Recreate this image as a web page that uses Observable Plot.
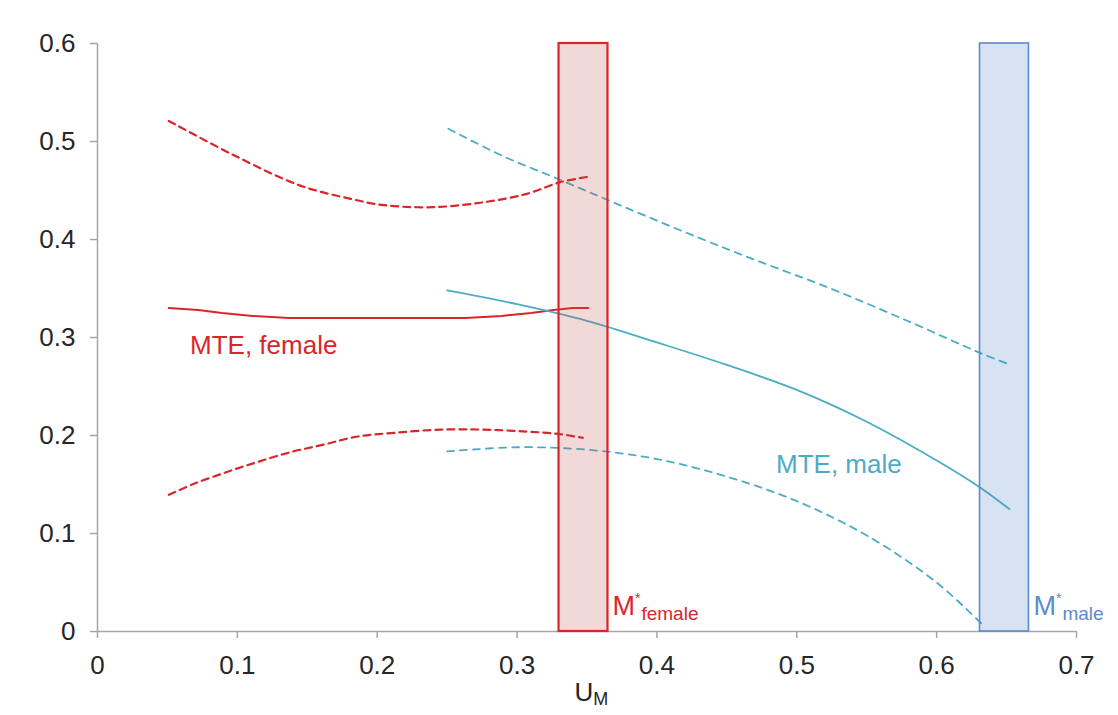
<!DOCTYPE html>
<html>
<head>
<meta charset="utf-8">
<script src="https://cdn.jsdelivr.net/npm/d3@7"></script>
<script src="https://cdn.jsdelivr.net/npm/@observablehq/plot@0.6"></script>
<style>
  html, body { margin: 0; padding: 0; background: #fff; }
  #chart svg { display: block; }
</style>
</head>
<body>
<div id="chart"></div>
<script>
// ---- data ----
const xTicks = [0, 0.1, 0.2, 0.3, 0.4, 0.5, 0.6, 0.7];
const yTicks = [0, 0.1, 0.2, 0.3, 0.4, 0.5, 0.6];

// MTE female (solid) and its confidence bands (dashed)
const femaleMTE = [[0.051,0.330],[0.072,0.328],[0.089,0.325],[0.111,0.322],[0.137,0.320],[0.200,0.320],[0.263,0.320],[0.289,0.322],[0.310,0.325],[0.326,0.328],[0.340,0.330],[0.351,0.330]];
const femaleUpper = [[0.051,0.521],[0.0975,0.486],[0.145,0.455],[0.181,0.4415],[0.205,0.435],[0.240,0.433],[0.276,0.438],[0.307,0.4466],[0.331,0.4585],[0.351,0.464]];
const femaleLower = [[0.051,0.1395],[0.069,0.1507],[0.093,0.163],[0.114,0.1728],[0.138,0.183],[0.162,0.1908],[0.186,0.199],[0.212,0.2027],[0.245,0.206],[0.276,0.206],[0.307,0.204],[0.329,0.2017],[0.347,0.1976]];

// MTE male (solid) and its confidence bands (dashed)
const maleMTE = [[0.250,0.348],[0.300,0.334],[0.350,0.317],[0.400,0.295],[0.450,0.272],[0.500,0.2465],[0.550,0.214],[0.600,0.1745],[0.630,0.148],[0.652,0.125]];
const maleUpper = [[0.2509,0.513],[0.289,0.4857],[0.329,0.462],[0.3686,0.438],[0.414,0.411],[0.465,0.382],[0.5218,0.3513],[0.5786,0.3173],[0.6325,0.2834],[0.651,0.273]];
const maleLower = [[0.250,0.1837],[0.300,0.188],[0.350,0.1855],[0.400,0.176],[0.450,0.158],[0.500,0.133],[0.550,0.098],[0.600,0.050],[0.632,0.008]];

// M* intervals
const mStarGroups = ["female", "male"];
const mStarLow = [0.330, 0.631];
const mStarHigh = [0.365, 0.666];
const mStarTop = [0.6, 0.6];

// label anchors (data units) and texts
const labelTexts = ["MTE, female", "MTE, male"];
const labelX = [0.0665, 0.4855];
const labelY = [0.292, 0.171];

// ---- styles ----
const RED = "#d9262b";
const TEAL = "#4bacc6";
const BLUE = "#5b8bd0";
const AXIS = "#a6a6a6";
const TXT = "#262626";
const FONT = "'Liberation Sans', Arial, sans-serif";

const rects = mStarGroups.map((g, i) => ({g, x1: mStarLow[i], x2: mStarHigh[i], y2: mStarTop[i]}));

const chart = Plot.plot({
  width: 1118,
  height: 715,
  marginLeft: 97,
  marginRight: 42,
  marginTop: 43,
  marginBottom: 84,
  style: {fontFamily: FONT, fontSize: "26px", color: TXT, background: "#fff"},
  x: {domain: [0, 0.7]},
  y: {domain: [0, 0.6]},
  marks: [
    Plot.axisX({ticks: xTicks, tickSize: 7, tickPadding: 17, stroke: AXIS, strokeWidth: 1.5, fill: TXT, fontSize: 26, label: null, tickFormat: d3.format("")}),
    Plot.axisY({ticks: yTicks, tickSize: 7, tickPadding: 15, stroke: AXIS, strokeWidth: 1.5, fill: TXT, fontSize: 26, label: null, tickFormat: d3.format("")}),
    Plot.ruleY([0], {stroke: AXIS, strokeWidth: 1.5}),
    Plot.ruleX([0], {stroke: AXIS, strokeWidth: 1.5}),
    // female
    Plot.line(femaleUpper, {x: d => d[0], y: d => d[1], stroke: RED, strokeWidth: 2.2, strokeDasharray: "7,5", curve: "catmull-rom"}),
    Plot.line(femaleLower, {x: d => d[0], y: d => d[1], stroke: RED, strokeWidth: 2.2, strokeDasharray: "7,5", curve: "catmull-rom"}),
    Plot.line(femaleMTE, {x: d => d[0], y: d => d[1], stroke: RED, strokeWidth: 2}),
    // male
    Plot.line(maleUpper, {x: d => d[0], y: d => d[1], stroke: TEAL, strokeWidth: 1.8, strokeDasharray: "7,6", curve: "catmull-rom"}),
    Plot.line(maleLower, {x: d => d[0], y: d => d[1], stroke: TEAL, strokeWidth: 1.8, strokeDasharray: "7,6", curve: "catmull-rom"}),
    Plot.line(maleMTE, {x: d => d[0], y: d => d[1], stroke: TEAL, strokeWidth: 1.8, curve: "catmull-rom"}),
    // M* bars on top (semi-transparent)
    Plot.rect(rects, {x1: "x1", x2: "x2", y1: 0, y2: "y2",
      fill: d => d.g === "female" ? "#c0504d" : "#4f81bd", fillOpacity: 0.22,
      stroke: d => d.g === "female" ? RED : BLUE, strokeWidth: d => d.g === "female" ? 2.2 : 1.6})
  ]
});

document.getElementById("chart").appendChild(chart);

// ---- annotations ----
const X = chart.scale("x").apply;
const Y = chart.scale("y").apply;
const svg = d3.select(chart);
const g = svg.append("g").attr("font-family", FONT).attr("text-anchor", "start");

labelTexts.forEach((t, i) => {
  g.append("text")
    .attr("x", X(labelX[i])).attr("y", Y(labelY[i]))
    .attr("dy", "0.35em")
    .attr("font-size", 26)
    .attr("fill", i === 0 ? RED : TEAL)
    .text(t);
});

// M* labels next to the bars
mStarGroups.forEach((grp, i) => {
  const t = g.append("text")
    .attr("x", X(mStarHigh[i]) + 5)
    .attr("y", Y(0) - 16)
    .attr("fill", grp === "female" ? RED : BLUE);
  t.append("tspan").attr("font-size", 27).text("M");
  t.append("tspan").attr("font-size", 14).attr("dy", -12).text("*");
  t.append("tspan").attr("font-size", 19).attr("dy", 17).attr("dx", 1).text(grp);
});

// x axis title U_M
const xt = g.append("text")
  .attr("x", (X(0) + X(0.7)) / 2 - 12)
  .attr("y", 701)
  .attr("fill", TXT);
xt.append("tspan").attr("font-size", 26).text("U");
xt.append("tspan").attr("font-size", 18).attr("dy", 4).text("M");
</script>
</body>
</html>
